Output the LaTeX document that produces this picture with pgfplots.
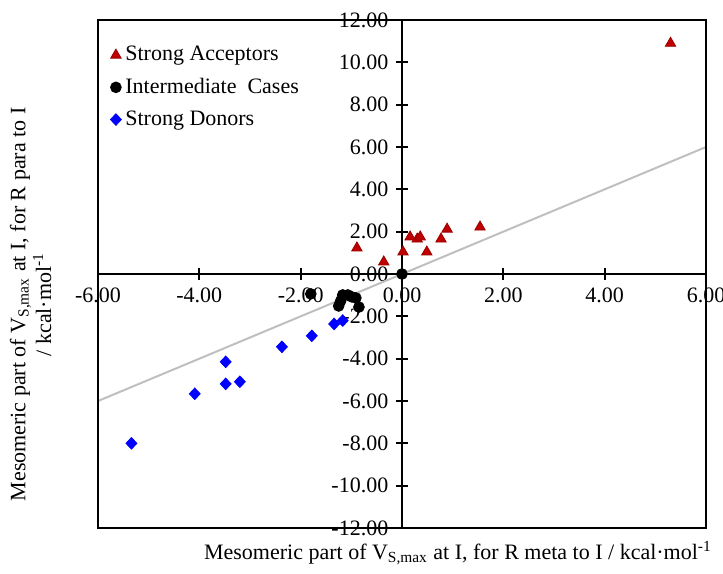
\documentclass[border=0pt]{standalone}
\usepackage{fontspec}
\setmainfont{Liberation Serif}
\usepackage{pgfplots}
\pgfplotsset{compat=1.18}
\definecolor{accred}{HTML}{C00000}
\definecolor{linegray}{HTML}{BFBFBF}
\begin{document}
\fontsize{11}{13}\selectfont
\begin{tikzpicture}
\begin{axis}[
  scale only axis, width=304pt, height=254pt,
  xmin=-6, xmax=6, ymin=-12, ymax=12,
  axis lines=middle,
  axis line style={line width=1pt, -},
  xtick={-6,-4,...,6}, ytick={-12,-10,...,12},
  hide obscured x ticks=false, hide obscured y ticks=false,
  tick align=center, major tick length=6pt,
  tick style={line width=1pt, black},
  ticklabel style={font=\fontsize{11}{13}\selectfont},
  /pgf/number format/fixed,
  /pgf/number format/fixed zerofill,
  /pgf/number format/precision=2,
  /pgf/number format/assume math mode=true,
  xlabel={Mesomeric part of V\textsubscript{S,max} at I, for R meta to I / kcal·mol\textsuperscript{-1}},
  ylabel={Mesomeric part of V\textsubscript{S,max} at I, for R para to I\\/ kcal·mol\textsuperscript{-1}},
  xlabel style={at={(axis description cs:0.592,-0.049)}, anchor=center, font=\fontsize{11}{13}\selectfont},
  ylabel style={at={(axis description cs:-0.064,0.44)}, anchor=south, rotate=90, align=center, font=\fontsize{11}{11.5}\selectfont},
  legend cell align=left,
  legend style={at={(axis description cs:0.01,0.965)}, anchor=north west, draw=none, fill=none, font=\fontsize{11}{13}\selectfont, row sep=3pt},
  after end axis/.code={
    \draw[line width=0.6pt] (rel axis cs:0,0) rectangle (rel axis cs:1,1);
    \coordinate (bl) at (rel axis cs:0,0);
    \coordinate (tr) at (rel axis cs:1,1);
  },
]
\addplot[linegray, line width=1pt, forget plot] coordinates {(-6,-6) (6,6)};
\addplot[only marks, mark=triangle*, mark size=3pt, color=accred, mark options={fill=accred, draw=accred!80!black}] coordinates {
(5.30,10.90) (-0.89,1.23) (-0.36,0.57) (0.02,1.04) (0.16,1.75) (0.30,1.65)
(0.36,1.75) (0.49,1.04) (0.77,1.65) (0.89,2.12) (1.54,2.22)
};
\addlegendentry{Strong Acceptors}
\addplot[only marks, mark=*, mark size=2.7pt, color=black] coordinates {
(0,0) (-1.80,-0.94) (-1.17,-0.99) (-1.07,-0.99) (-0.99,-1.08) (-0.91,-1.13)
(-1.21,-1.27) (-1.25,-1.51) (-0.85,-1.56)
};
\addlegendentry{Intermediate\ \ Cases}
\addplot[only marks, mark=diamond*, mark size=2.9pt, color=blue, mark options={xscale=1.25}] coordinates {
(-5.34,-8.00) (-4.09,-5.66) (-3.48,-4.15) (-3.48,-5.19) (-3.20,-5.09)
(-2.37,-3.44) (-1.78,-2.92) (-1.34,-2.36) (-1.17,-2.20)
};
\addlegendentry{Strong Donors}
\end{axis}
\pgfresetboundingbox
\path ([shift={(-49pt,-22.5pt)}]bl) rectangle ([shift={(8.5pt,10pt)}]tr);
\end{tikzpicture}
\end{document}
